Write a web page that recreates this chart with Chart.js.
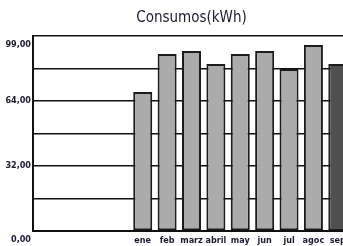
<!DOCTYPE html>
<html>
<head>
<meta charset="utf-8">
<script src="https://cdn.jsdelivr.net/npm/chart.js@4/dist/chart.umd.min.js"></script>
<style>
  html, body { margin: 0; padding: 0; background: #fff; overflow: hidden; }
  #wrap { position: relative; width: 350px; height: 246px; }
</style>
</head>
<body>
<div id="wrap"><canvas id="c"></canvas></div>
<script>
const categories = ["", "", "", "", "ene", "feb", "marz", "abril", "may", "jun", "jul", "agoc", "sep"];
const consumos = [null, null, null, null, 70.6, 89.9, 91.4, 84.8, 89.9, 91.4, 82.2, 94.4, 84.8];
const yTickLabels = ["0,00", "", "32,00", "", "64,00", "", "99,00"];
const yMax = 99;
const yStep = 16.5;

const LIGHT = '#ababab';
const DARK = '#505050';
const lastIdx = consumos.length - 1;
const FAM = "'DejaVu Sans Condensed', 'Liberation Sans Narrow', 'Arial Narrow', sans-serif";

new Chart(document.getElementById('c'), {
  type: 'bar',
  data: {
    labels: categories,
    datasets: [{
      label: 'Consumos(kWh)',
      data: consumos,
      backgroundColor: (ctx) => ctx.dataIndex === lastIdx ? DARK : LIGHT,
      borderColor: '#1c1c1c',
      borderWidth: 2,
      borderSkipped: false,
      categoryPercentage: 1,
      barPercentage: 0.78
    }]
  },
  options: {
    responsive: true,
    maintainAspectRatio: false,
    animation: false,
    layout: { padding: { left: 0, right: 0, top: 0, bottom: 0 } },
    plugins: {
      legend: { display: false },
      tooltip: { enabled: false },
      title: {
        display: true,
        fullSize: false,
        text: 'Consumos(kWh)',
        color: '#1a1a33',
        font: { family: FAM, size: 15, weight: 'normal' },
        padding: { top: 9, bottom: 9 }
      }
    },
    scales: {
      x: {
        offset: true,
        afterFit: (scale) => { scale.height = 15; },
        grid: { display: false, drawTicks: false },
        border: { display: true, color: '#111', width: 2 },
        ticks: {
          color: '#1a1a33',
          padding: 4,
          maxRotation: 0,
          autoSkip: false,
          font: { family: FAM, size: 9, weight: 'bold' }
        }
      },
      y: {
        min: 0,
        max: yMax,
        afterFit: (scale) => { scale.width = 33; scale.paddingTop = 0; scale.paddingBottom = 0; },
        afterBuildTicks: (scale) => {
          scale.ticks = yTickLabels.map((_, i) => ({ value: i * yStep }));
        },
        grid: { color: '#111', lineWidth: 1.5, drawTicks: false },
        border: { display: true, color: '#111', width: 2 },
        ticks: {
          autoSkip: false,
          color: '#1a1a33',
          padding: 2,
          callback: (v, i) => {
            const t = yTickLabels[i];
            if (i === 0 || i === yTickLabels.length - 1) return ['', t];
            return t;
          },
          font: (ctx) => ({
            family: FAM,
            size: 9,
            weight: 'bold',
            lineHeight: (ctx.index === 0 || ctx.index === yTickLabels.length - 1) ? '17px' : 1.2
          })
        }
      }
    }
  }
});
</script>
</body>
</html>
